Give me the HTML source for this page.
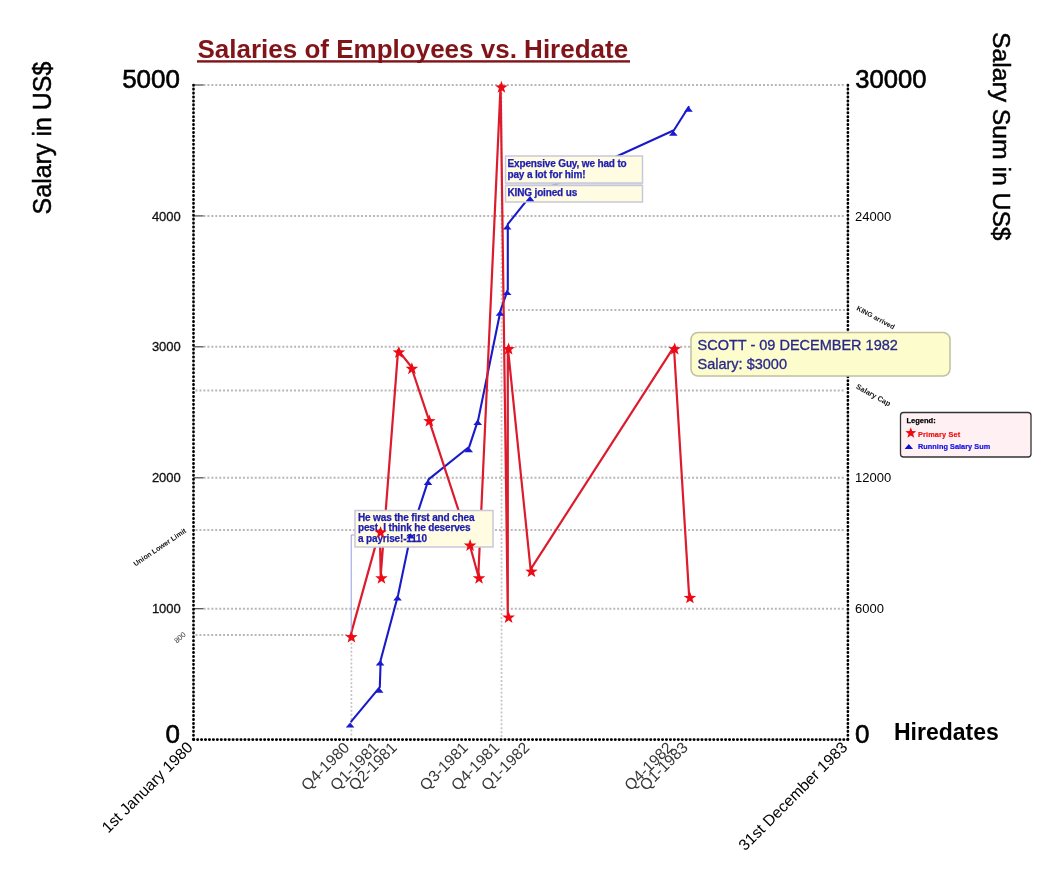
<!DOCTYPE html><html><head><meta charset="utf-8"><style>html,body{margin:0;padding:0;background:#fff;width:1056px;height:872px;overflow:hidden}svg{display:block;filter:blur(0.55px)}text{font-family:"Liberation Sans",sans-serif}</style></head><body>
<svg width="1056" height="872" viewBox="0 0 1056 872">
<line x1="203.5" y1="85.0" x2="845.2" y2="85.0" stroke="#b8b8b8" stroke-width="2" stroke-dasharray="2 1.94"/>
<line x1="203.5" y1="215.9" x2="845.2" y2="215.9" stroke="#b8b8b8" stroke-width="2" stroke-dasharray="2 1.94"/>
<line x1="203.5" y1="346.8" x2="845.2" y2="346.8" stroke="#b8b8b8" stroke-width="2" stroke-dasharray="2 1.94"/>
<line x1="203.5" y1="477.8" x2="845.2" y2="477.8" stroke="#b8b8b8" stroke-width="2" stroke-dasharray="2 1.94"/>
<line x1="203.5" y1="608.7" x2="845.2" y2="608.7" stroke="#b8b8b8" stroke-width="2" stroke-dasharray="2 1.94"/>
<line x1="195.5" y1="530.1" x2="845.2" y2="530.1" stroke="#b8b8b8" stroke-width="2" stroke-dasharray="2 1.94"/>
<line x1="195.5" y1="390.5" x2="845.2" y2="390.5" stroke="#b8b8b8" stroke-width="2" stroke-dasharray="2 1.94"/>
<line x1="195.5" y1="634.9" x2="351" y2="634.9" stroke="#b8b8b8" stroke-width="2" stroke-dasharray="2 1.94"/>
<line x1="508" y1="310" x2="845.2" y2="310" stroke="#b8b8b8" stroke-width="2" stroke-dasharray="2 1.94"/>
<line x1="501.5" y1="85.0" x2="501.5" y2="737.6" stroke="#c4c4c4" stroke-width="1.7" stroke-dasharray="2 1.94"/>
<line x1="351.4" y1="634.9" x2="351.4" y2="737.6" stroke="#c4c4c4" stroke-width="1.7" stroke-dasharray="2 1.94"/>
<line x1="193.5" y1="85.0" x2="203.5" y2="85.0" stroke="#555" stroke-width="1.3"/>
<line x1="193.5" y1="215.9" x2="203.5" y2="215.9" stroke="#555" stroke-width="1.3"/>
<line x1="193.5" y1="346.8" x2="203.5" y2="346.8" stroke="#555" stroke-width="1.3"/>
<line x1="193.5" y1="477.8" x2="203.5" y2="477.8" stroke="#555" stroke-width="1.3"/>
<line x1="193.5" y1="608.7" x2="203.5" y2="608.7" stroke="#555" stroke-width="1.3"/>
<line x1="193.5" y1="85.0" x2="193.5" y2="739.6" stroke="#000" stroke-width="2.7" stroke-linecap="round" stroke-dasharray="0.4 3.54"/>
<line x1="847.9" y1="85.0" x2="847.9" y2="739.6" stroke="#000" stroke-width="2.7" stroke-linecap="round" stroke-dasharray="0.4 3.54"/>
<line x1="193.5" y1="739.6" x2="847.9" y2="739.6" stroke="#000" stroke-width="2.7" stroke-linecap="round" stroke-dasharray="0.4 3.54"/>
<polyline fill="none" stroke="#1a1ac8" stroke-width="2.1" stroke-linejoin="round" points="350.7,722.1 379.8,687.2 380.7,660.0 398.1,595.0 411.1,532.9 428.6,479.4 469.3,446.7 478.3,419.4 500.6,310.3 507.8,289.6 507.8,224.1 530.6,195.7 673.9,130.3 689.1,106.3"/>
<polyline fill="none" stroke="#dc1c2c" stroke-width="2.2" stroke-linejoin="round" points="350.7,634.9 379.8,530.1 380.7,576.0 398.1,350.1 411.1,366.5 428.6,418.8 469.3,543.2 478.3,576.0 500.6,85.0 507.8,615.2 507.8,346.8 530.6,569.4 673.9,346.8 689.1,595.6"/>
<polyline fill="none" stroke="#9a9ae0" stroke-width="1" points="351.2,634.9 351.2,535 355,535"/>
<rect x="355" y="510.5" width="138" height="36.5" fill="#fffce2" stroke="#c8c8dc" stroke-width="1.5"/>
<text x="358" y="521" font-size="10" font-weight="bold" fill="#1c1cb0" stroke="#1c1cb0" stroke-width="0.25" letter-spacing="-0.15">He was the first and chea</text>
<text x="358" y="531.4" font-size="10" font-weight="bold" fill="#1c1cb0" stroke="#1c1cb0" stroke-width="0.25" letter-spacing="-0.15">pest. I think he deserves</text>
<text x="358" y="541.8" font-size="10" font-weight="bold" fill="#1c1cb0" stroke="#1c1cb0" stroke-width="0.25" letter-spacing="-0.15">a payrise!-1110</text>
<rect x="505.5" y="182" width="137" height="4" fill="#d0d0e4" fill-opacity="0.75"/>
<rect x="505.5" y="156" width="137" height="27" fill="#fffce2" stroke="#c8c8dc" stroke-width="1.5"/>
<rect x="505.5" y="185.5" width="137" height="16.5" fill="#fffce2" stroke="#c8c8dc" stroke-width="1.5"/>
<text x="507.5" y="167.3" font-size="10" font-weight="bold" fill="#1c1cb0" stroke="#1c1cb0" stroke-width="0.25" letter-spacing="-0.15">Expensive Guy, we had to</text>
<text x="507.5" y="177.7" font-size="10" font-weight="bold" fill="#1c1cb0" stroke="#1c1cb0" stroke-width="0.25" letter-spacing="-0.15">pay a lot for him!</text>
<text x="507.5" y="195.5" font-size="10" font-weight="bold" fill="#1c1cb0" stroke="#1c1cb0" stroke-width="0.25" letter-spacing="-0.15">KING joined us</text>
<polygon points="350.1,722.4 354.4,727.6 345.8,727.6" fill="#1a1ad0"/>
<polygon points="379.2,687.5 383.5,692.7 374.9,692.7" fill="#1a1ad0"/>
<polygon points="380.1,660.3 384.4,665.5 375.8,665.5" fill="#1a1ad0"/>
<polygon points="397.5,595.3 401.8,600.5 393.2,600.5" fill="#1a1ad0"/>
<polygon points="410.5,533.2 414.8,538.4 406.2,538.4" fill="#1a1ad0"/>
<polygon points="428.0,479.7 432.3,484.9 423.7,484.9" fill="#1a1ad0"/>
<polygon points="468.7,447.0 473.0,452.2 464.4,452.2" fill="#1a1ad0"/>
<polygon points="477.7,419.7 482.0,424.9 473.4,424.9" fill="#1a1ad0"/>
<polygon points="500.0,310.6 504.3,315.8 495.7,315.8" fill="#1a1ad0"/>
<polygon points="507.2,289.9 511.5,295.1 502.9,295.1" fill="#1a1ad0"/>
<polygon points="507.2,224.4 511.5,229.6 502.9,229.6" fill="#1a1ad0"/>
<polygon points="530.0,196.0 534.3,201.2 525.7,201.2" fill="#1a1ad0"/>
<polygon points="673.3,130.6 677.6,135.8 669.0,135.8" fill="#1a1ad0"/>
<polygon points="688.5,106.6 692.8,111.8 684.2,111.8" fill="#1a1ad0"/>
<polygon points="351.5,630.7 353.0,635.1 357.7,635.2 354.0,638.1 355.3,642.6 351.5,640.0 347.6,642.6 348.9,638.1 345.2,635.2 349.9,635.1" fill="#ee0a14"/>
<polygon points="380.6,525.9 382.1,530.3 386.8,530.5 383.1,533.4 384.4,537.9 380.6,535.2 376.7,537.9 378.0,533.4 374.3,530.5 379.0,530.3" fill="#ee0a14"/>
<polygon points="381.5,571.8 383.0,576.2 387.7,576.3 384.0,579.2 385.3,583.7 381.5,581.1 377.6,583.7 378.9,579.2 375.2,576.3 379.9,576.2" fill="#ee0a14"/>
<polygon points="398.9,345.9 400.5,350.3 405.2,350.5 401.5,353.3 402.8,357.9 398.9,355.2 395.0,357.9 396.3,353.3 392.6,350.5 397.3,350.3" fill="#ee0a14"/>
<polygon points="411.9,362.3 413.5,366.7 418.2,366.8 414.5,369.7 415.8,374.2 411.9,371.6 408.0,374.2 409.3,369.7 405.6,366.8 410.3,366.7" fill="#ee0a14"/>
<polygon points="429.4,414.6 431.0,419.1 435.6,419.2 431.9,422.1 433.2,426.6 429.4,423.9 425.5,426.6 426.8,422.1 423.1,419.2 427.8,419.1" fill="#ee0a14"/>
<polygon points="470.1,539.0 471.7,543.4 476.4,543.6 472.7,546.5 474.0,551.0 470.1,548.3 466.2,551.0 467.5,546.5 463.8,543.6 468.5,543.4" fill="#ee0a14"/>
<polygon points="479.1,571.8 480.6,576.2 485.3,576.3 481.6,579.2 482.9,583.7 479.1,581.1 475.2,583.7 476.5,579.2 472.8,576.3 477.5,576.2" fill="#ee0a14"/>
<polygon points="501.4,80.8 503.0,85.2 507.7,85.4 504.0,88.2 505.3,92.7 501.4,90.1 497.6,92.7 498.9,88.2 495.2,85.4 499.9,85.2" fill="#ee0a14"/>
<polygon points="508.6,611.0 510.2,615.4 514.9,615.6 511.2,618.5 512.5,623.0 508.6,620.3 504.7,623.0 506.0,618.5 502.3,615.6 507.0,615.4" fill="#ee0a14"/>
<polygon points="508.6,342.6 510.2,347.1 514.9,347.2 511.2,350.1 512.5,354.6 508.6,351.9 504.7,354.6 506.0,350.1 502.3,347.2 507.0,347.1" fill="#ee0a14"/>
<polygon points="531.4,565.2 533.0,569.6 537.7,569.8 534.0,572.6 535.3,577.1 531.4,574.5 527.6,577.1 528.9,572.6 525.2,569.8 529.9,569.6" fill="#ee0a14"/>
<polygon points="674.7,342.6 676.3,347.1 681.0,347.2 677.3,350.1 678.6,354.6 674.7,351.9 670.8,354.6 672.2,350.1 668.4,347.2 673.1,347.1" fill="#ee0a14"/>
<polygon points="689.9,591.4 691.5,595.8 696.2,595.9 692.5,598.8 693.8,603.3 689.9,600.7 686.1,603.3 687.4,598.8 683.7,595.9 688.4,595.8" fill="#ee0a14"/>
<text x="197.5" y="57.8" font-size="26" font-weight="bold" fill="#801418">Salaries of Employees vs. Hiredate</text>
<rect x="197" y="60.2" width="433" height="2.4" fill="#801418"/>
<text transform="translate(51,138) rotate(-90)" text-anchor="middle" font-size="25" fill="#000" stroke="#000" stroke-width="0.5">Salary in US$</text>
<text transform="translate(992.5,136.3) rotate(90)" text-anchor="middle" font-size="24.7" fill="#000" stroke="#000" stroke-width="0.5">Salary Sum in US$</text>
<text x="894" y="740" font-size="23" font-weight="bold" fill="#000">Hiredates</text>
<text x="180" y="88.2" font-size="26" text-anchor="end" stroke="#000" stroke-width="0.6">5000</text>
<text x="180.8" y="220.5" font-size="13" text-anchor="end" fill="#111" stroke="#111" stroke-width="0.3">4000</text>
<text x="180.8" y="351.4" font-size="13" text-anchor="end" fill="#111" stroke="#111" stroke-width="0.3">3000</text>
<text x="180.8" y="482.4" font-size="13" text-anchor="end" fill="#111" stroke="#111" stroke-width="0.3">2000</text>
<text x="180.8" y="613.3" font-size="13" text-anchor="end" fill="#111" stroke="#111" stroke-width="0.3">1000</text>
<text x="180" y="743.2" font-size="26" text-anchor="end" stroke="#000" stroke-width="0.6">0</text>
<text x="855.3" y="88.2" font-size="25.6" stroke="#000" stroke-width="0.6">30000</text>
<text x="855" y="220.5" font-size="13">24000</text>
<text x="855" y="482.4" font-size="13">12000</text>
<text x="855" y="613.3" font-size="13">6000</text>
<text x="855" y="743.2" font-size="26" stroke="#000" stroke-width="0.6">0</text>
<text transform="translate(135.5,566.5) rotate(-34)" font-size="7.1" font-weight="bold" fill="#111">Union Lower Limit</text>
<text transform="translate(177,643.5) rotate(-42)" font-size="7.5" fill="#333">800</text>
<text transform="translate(856,309.8) rotate(28)" font-size="6.9" font-weight="bold" fill="#111">KING arrived</text>
<text transform="translate(855.5,388) rotate(29)" font-size="7.4" font-weight="bold" fill="#111">Salary Cap</text>
<text transform="translate(193.8,748.3) rotate(-45)" text-anchor="end" font-size="15.75" fill="#000">1st January 1980</text>
<text transform="translate(848.4,748.2) rotate(-45)" text-anchor="end" font-size="15.75" fill="#000">31st December 1983</text>
<text transform="translate(350.4,748.5) rotate(-45)" text-anchor="end" font-size="15.6" fill="#383838">Q4-1980</text>
<text transform="translate(379.5,748.5) rotate(-45)" text-anchor="end" font-size="15.6" fill="#383838">Q1-1981</text>
<text transform="translate(397.8,748.5) rotate(-45)" text-anchor="end" font-size="15.6" fill="#383838">Q2-1981</text>
<text transform="translate(469.0,748.5) rotate(-45)" text-anchor="end" font-size="15.6" fill="#383838">Q3-1981</text>
<text transform="translate(500.3,748.5) rotate(-45)" text-anchor="end" font-size="15.6" fill="#383838">Q4-1981</text>
<text transform="translate(530.3,748.5) rotate(-45)" text-anchor="end" font-size="15.6" fill="#383838">Q1-1982</text>
<text transform="translate(673.6,748.5) rotate(-45)" text-anchor="end" font-size="15.6" fill="#383838">Q4-1982</text>
<text transform="translate(688.8,748.5) rotate(-45)" text-anchor="end" font-size="15.6" fill="#383838">Q1-1983</text>
<rect x="691" y="332.5" width="259" height="43.5" rx="7" fill="#fcfccc" stroke="#c0c0a0" stroke-width="1.5"/>
<text x="697.5" y="350" font-size="14.5" fill="#28288c" stroke="#28288c" stroke-width="0.3">SCOTT - 09 DECEMBER 1982</text>
<text x="697.5" y="369" font-size="14.5" fill="#28288c" stroke="#28288c" stroke-width="0.3">Salary: $3000</text>
<rect x="900.5" y="412.5" width="130.5" height="44.5" rx="3" fill="#fff0f4" stroke="#333" stroke-width="1.3"/>
<text x="906.5" y="422.8" font-size="7.5" font-weight="bold" fill="#000" stroke="#000" stroke-width="0.25">Legend:</text>
<polygon points="910.8,427.2 912.2,431.1 916.3,431.2 913.1,433.7 914.2,437.7 910.8,435.4 907.4,437.7 908.5,433.7 905.3,431.2 909.4,431.1" fill="#ee0a14"/>
<text x="918" y="436.5" font-size="7.3" font-weight="bold" fill="#f01010" stroke="#f01010" stroke-width="0.2" letter-spacing="0.15">Primary Set</text>
<polygon points="908.8,444 913,449 904.6,449" fill="#1010d0"/>
<text x="918" y="449.2" font-size="7.3" font-weight="bold" fill="#1010e0" stroke="#1010e0" stroke-width="0.2" letter-spacing="0.05">Running Salary Sum</text>
</svg></body></html>
